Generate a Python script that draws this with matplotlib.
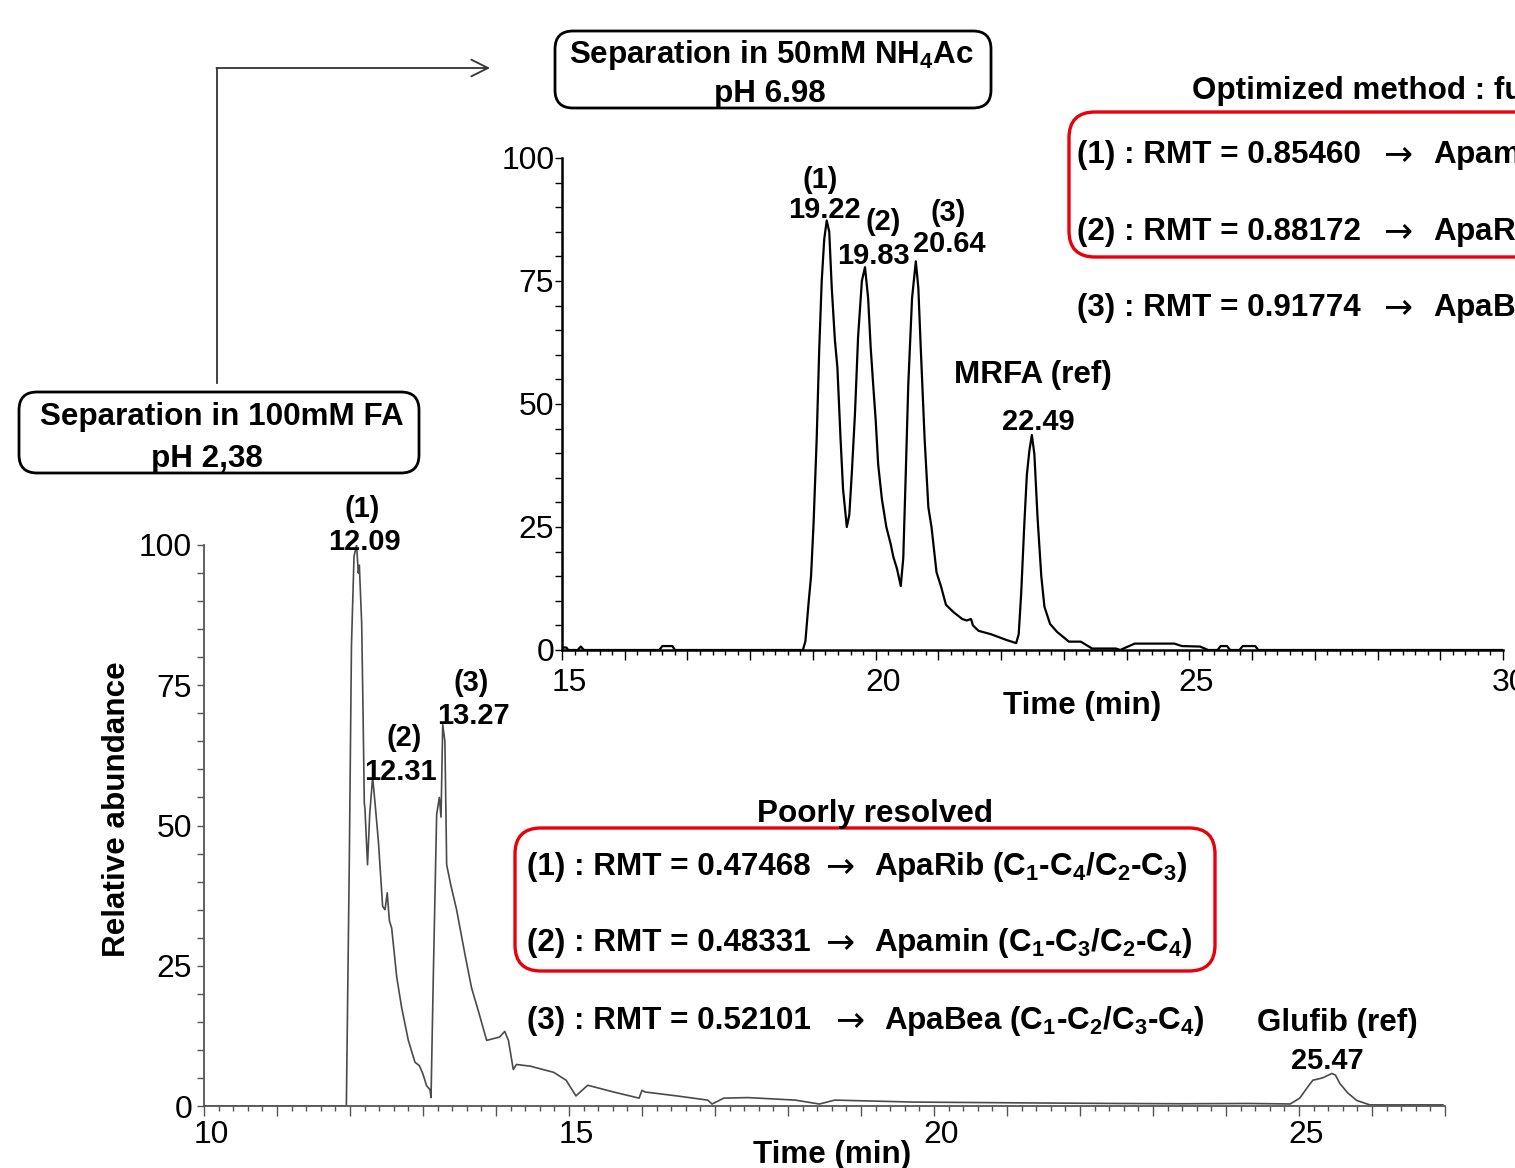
import matplotlib
matplotlib.use("Agg")
import matplotlib.pyplot as plt
import matplotlib.transforms as mtransforms
from matplotlib import font_manager
from matplotlib.patches import FancyBboxPatch
from matplotlib.lines import Line2D
from matplotlib.ticker import MultipleLocator, FuncFormatter

# ---- electropherogram, 100mM FA (pH 2.38) : time (min) / relative abundance ----
fa_time = [10.0, 11.95, 11.99, 12.02, 12.055, 12.09, 12.114, 12.128, 12.16, 12.18,
           12.196, 12.205, 12.24, 12.27, 12.31, 12.343, 12.39, 12.447, 12.48, 12.51,
           12.54, 12.571, 12.64, 12.708, 12.799, 12.89, 12.95, 12.996, 13.05, 13.096,
           13.11, 13.141, 13.187, 13.224, 13.247, 13.27, 13.30, 13.315, 13.324, 13.379,
           13.46, 13.575, 13.666, 13.757, 13.872, 13.963, 14.05, 14.12, 14.17, 14.237,
           14.28, 14.47, 14.79, 14.96, 15.095, 15.256, 15.61, 15.96, 16.0, 16.04,
           16.475, 16.9, 16.96, 17.12, 17.45, 18.1, 18.43, 18.64, 19.72, 21.18,
           22.5, 23.4, 24.3, 24.88, 25.01, 25.12, 25.19, 25.29, 25.34, 25.45,
           25.5, 25.56, 25.67, 25.79, 25.97, 26.97]
fa_abund = [0.0, 0.0, 43, 82, 98, 100, 95, 96.4, 86, 69,
            54, 53, 43, 52, 58.6, 54, 47, 35.6, 35, 38,
            33, 31.7, 23, 17.5, 11.7, 7.8, 7.2, 5.8, 3.6, 2.9,
            1.5, 23, 52, 55, 51.5, 68, 65, 51.5, 43, 39.5,
            35, 27, 21, 17, 11.7, 12, 12.3, 13.3, 11.7, 6.5,
            7.4, 7.1, 6.0, 4.6, 1.8, 3.7, 2.5, 1.4, 2.8, 2.5,
            1.8, 1.05, 0.35, 1.4, 1.5, 1.05, 0.35, 1.05, 0.7, 0.56,
            0.45, 0.4, 0.45, 0.36, 1.4, 3.4, 4.6, 4.9, 5.1, 5.8,
            5.5, 4.0, 2.3, 1.0, 0.2, 0.2]

# ---- electropherogram, 50mM NH4Ac (pH 6.98) ----
nh_time = [15.0, 15.07, 15.1, 15.25, 15.3, 15.35, 16.55, 16.6, 16.76, 16.8,
           18.84, 18.88, 18.93, 18.97, 19.01, 19.06, 19.10, 19.14, 19.18, 19.22,
           19.26, 19.30, 19.35, 19.39, 19.44, 19.48, 19.54, 19.58, 19.62, 19.67,
           19.72, 19.78, 19.83, 19.88, 19.92, 19.96, 20.0, 20.04, 20.1, 20.17,
           20.24, 20.28, 20.34, 20.4, 20.44, 20.48, 20.52, 20.58, 20.64, 20.68,
           20.72, 20.78, 20.84, 20.89, 20.97, 21.04, 21.12, 21.24, 21.38, 21.45,
           21.52, 21.55, 21.64, 21.84, 22.07, 22.24, 22.28, 22.32, 22.37, 22.41,
           22.45, 22.49, 22.53, 22.58, 22.64, 22.69, 22.78, 22.89, 23.08, 23.27,
           23.45, 23.83, 23.9, 23.95, 24.13, 24.76, 24.88, 25.17, 25.3, 25.45,
           25.5, 25.6, 25.65, 25.8, 25.85, 26.05, 26.1, 30.0]
nh_abund = [0.5, 0.5, 0.0, 0.0, 0.7, 0.0, 0.0, 0.8, 0.8, 0.0,
            0.0, 1.8, 9.5, 15, 25.7, 43, 61, 75, 83.5, 87.3,
            85, 73.6, 63, 57.4, 43, 32.7, 25, 27.5, 36, 48,
            63.7, 75, 77.8, 71.5, 61.6, 54, 46.8, 37.7, 30.6, 25,
            21.5, 19, 16.5, 13, 18.7, 36, 54, 71.5, 79, 73.6,
            61, 43, 29, 25, 15.8, 13, 9.2, 7.7, 6.3, 6.0,
            6.3, 5.0, 3.9, 3.2, 2.1, 1.4, 3.2, 11.6, 25.7, 35.6,
            40.5, 43.7, 39.8, 27, 15, 8.8, 5.3, 3.7, 1.7, 1.7,
            0.3, 0.3, 0.0, 0.3, 1.3, 1.3, 0.8, 0.7, 0.0, 0.0,
            0.8, 0.8, 0.0, 0.0, 0.8, 0.8, 0.0, 0.0]

fa_peak_ids = ["(1)", "(2)", "(3)"]
fa_peak_times = ["12.09", "12.31", "13.27"]
nh_peak_ids = ["(1)", "(2)", "(3)"]
nh_peak_times = ["19.22", "19.83", "20.64"]

poor_rmt = ["0.47468", "0.48331", "0.52101"]
poor_names = ["ApaRib (C$_1$-C$_4$/C$_2$-C$_3$)",
              "Apamin (C$_1$-C$_3$/C$_2$-C$_4$)",
              "ApaBea (C$_1$-C$_2$/C$_3$-C$_4$)"]
opt_rmt = ["0.85460", "0.88172", "0.91774"]
opt_names = ["Apamin (C$_1$-C$_3$/C$_2$-C$_4$)",
             "ApaRib (C$_1$-C$_4$/C$_2$-C$_3$)",
             "ApaBea (C$_1$-C$_2$/C$_3$-C$_4$)"]

# narrow face mimics the tall lettering of the original; fall back if absent
names = {f.name for f in font_manager.fontManager.ttflist}
if "Liberation Sans Narrow" in names:
    FONT, K = "Liberation Sans Narrow", 1.0
else:
    FONT, K = "Liberation Sans", 0.82
plt.rcParams["font.family"] = [FONT, "DejaVu Sans"]
plt.rcParams["mathtext.default"] = "regular"

BIG = 27.5 * K
PEAK = 25.5 * K
TICK = 28 * K

W, H = 1515, 1168
fig = plt.figure(figsize=(W / 100, H / 100), dpi=100)


def axes_px(left, top, right, bottom):
    return fig.add_axes([left / W, 1 - bottom / H, (right - left) / W, (bottom - top) / H])


def style(ax, xmin, xmax, color, lw, xpad, ypad):
    ax.set_facecolor("none")
    ax.set_xlim(xmin, xmax)
    ax.set_ylim(0, 100)
    for s in ("top", "right"):
        ax.spines[s].set_visible(False)
    for s in ("left", "bottom"):
        ax.spines[s].set_color(color)
        ax.spines[s].set_linewidth(lw)
    ax.xaxis.set_major_locator(MultipleLocator(1))
    ax.xaxis.set_minor_locator(MultipleLocator(0.2))
    ax.xaxis.set_major_formatter(FuncFormatter(lambda v, p: f"{v:.0f}" if round(v) % 5 == 0 else ""))
    ax.yaxis.set_major_locator(MultipleLocator(25))
    ax.yaxis.set_minor_locator(MultipleLocator(5))
    ax.tick_params(axis="x", which="major", length=7, width=1, color=color,
                   labelsize=TICK, pad=xpad)
    ax.tick_params(axis="x", which="minor", length=3.5, width=1, color=color)
    ax.tick_params(axis="y", which="both", length=5, width=1, color=color,
                   labelsize=TICK, pad=ypad)
    shift = mtransforms.ScaledTranslation(0.07, 0, fig.dpi_scale_trans)
    for lab in ax.get_xticklabels():
        lab.set_transform(lab.get_transform() + shift)


# lower chart: formic acid
ax1 = axes_px(204, 545, 1445, 1106)
ax1.plot(fa_time, fa_abund, color="#4a4a4a", lw=1.2)
style(ax1, 10, 27, "#555555", 1.3, 3, 3.5)

# upper chart: ammonium acetate
ax2 = axes_px(562, 158, 1503, 650)
ax2.plot(nh_time, nh_abund, color="black", lw=1.6)
style(ax2, 15, 30, "black", 1.8, 6, 0.5)

# overlay in pixel coordinates for boxes, arrows and annotations
ov = fig.add_axes([0, 0, 1, 1])
ov.set_xlim(0, W)
ov.set_ylim(H, 0)
ov.axis("off")
ov.set_facecolor("none")


def txt(x, y, s, size=BIG, ha="center", **kw):
    ov.text(x, y + 3, s, fontsize=size, fontweight="bold", ha=ha, va="center", **kw)


def rbox(x0, y0, x1, y1, color, lw, r=22):
    ov.add_patch(FancyBboxPatch((x0, y0), x1 - x0, y1 - y0,
                                boxstyle=f"round,pad=0,rounding_size={r}",
                                fc="none", ec=color, lw=lw))


def arrow_glyph(x, y):
    ov.text(x, y + 2, "\u2192", fontsize=25, ha="center", va="center", family="DejaVu Sans")


# condition boxes and connecting arrow
rbox(19, 392, 419, 473, "black", 2.0, r=18)
txt(222, 414, "Separation in 100mM FA")
txt(207, 456, "pH 2,38")
rbox(555, 31, 991, 108, "black", 2.0, r=18)
txt(771, 52, "Separation in 50mM NH$_4$Ac")
txt(770, 91, "pH 6.98")
ov.add_line(Line2D([217, 217], [383, 68], color="#333333", lw=1.3))
ov.annotate("", xy=(490, 68), xytext=(216.4, 68),
            arrowprops=dict(arrowstyle="->,head_length=1.2,head_width=0.6",
                            color="#333333", lw=1.3, shrinkA=0, shrinkB=0))

# peak labels
for (x, y), lab in zip([(362, 506), (404, 735), (471, 680)], fa_peak_ids):
    txt(x, y, lab, size=PEAK)
for (x, y), lab in zip([(364, 539), (400, 769), (473, 713)], fa_peak_times):
    txt(x, y, lab, size=PEAK)
txt(1337, 1020, "Glufib (ref)")
txt(1327, 1058, "25.47", size=PEAK)

for (x, y), lab in zip([(820, 177), (883, 219), (948, 210)], nh_peak_ids):
    txt(x, y, lab, size=PEAK)
for (x, y), lab in zip([(824, 207), (873, 253), (949, 241)], nh_peak_times):
    txt(x, y, lab, size=PEAK)
txt(1033, 372, "MRFA (ref)")
txt(1038, 419, "22.49", size=PEAK)

# axis titles
txt(117, 806, "Relative abundance", rotation=90)
txt(832, 1152, "Time (min)")
txt(1082, 703, "Time (min)")

# RMT assignments, FA method
txt(875, 811, "Poorly resolved")
rbox(515, 828, 1215, 971, "#e8000b", 2.4, r=26)
for i, (y, rmt, name) in enumerate(zip([864, 940, 1018], poor_rmt, poor_names)):
    txt(527, y, f"({i + 1}) : RMT = {rmt}", ha="left")
    arrow_glyph(850 if i == 2 else 840, y)
    txt(884 if i == 2 else 874, y, name, ha="left")

# RMT assignments, NH4Ac method
txt(1192, 88, "Optimized method : fully resolved", ha="left")
rbox(1069, 112, 1560, 257, "#e8000b", 2.4, r=26)
for i, (y, rmt, name) in enumerate(zip([152, 229, 305], opt_rmt, opt_names)):
    txt(1077, y, f"({i + 1}) : RMT = {rmt}", ha="left")
    arrow_glyph(1398, y)
    txt(1433, y, name, ha="left")

fig.savefig("out.png", dpi=100)
